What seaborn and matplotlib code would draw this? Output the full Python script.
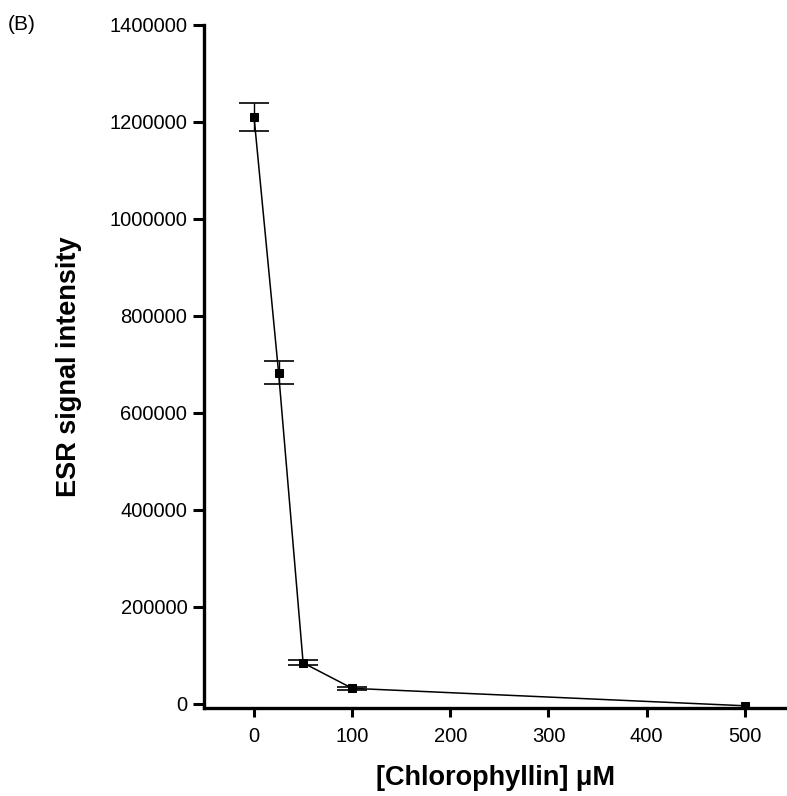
import numpy as np
import pandas as pd
import matplotlib
matplotlib.use('Agg')
import matplotlib.pyplot as plt
import seaborn as sns

# valori
conc = [0, 25, 50, 100, 500]
esr = [1210000, 683000, 84500, 32000, -4000]
err = [29000, 23500, 5000, 3000, 0]
x_ticks = [0, 100, 200, 300, 400, 500]
y_ticks = [0, 200000, 400000, 600000, 800000, 1000000, 1200000, 1400000]

sns.set_theme(style='ticks')
plt.rcParams['font.family'] = ['Liberation Sans', 'DejaVu Sans']
plt.rcParams['text.color'] = 'black'
plt.rcParams['axes.labelcolor'] = 'black'

df = pd.DataFrame({'conc': conc, 'esr': esr, 'err': err})

fig = plt.figure(figsize=(7.87, 7.96), dpi=100)
ax = fig.add_axes([0.2592, 0.1106, 0.7408, 0.858])

# barre di errore (solo dove visibili)
de = df[df['err'] > 0]
ax.errorbar(de['conc'], de['esr'], yerr=de['err'], fmt='none', ecolor='black',
            elinewidth=1.0, capsize=11, capthick=1.2, zorder=2)
sns.lineplot(data=df, x='conc', y='esr', ax=ax, color='black', linewidth=1.1,
             marker='s', markersize=5.5, markeredgecolor='black', zorder=3)

ax.set_xlim(-51, 543)
ax.set_ylim(-8500, 1400000)
ax.set_xticks(x_ticks)
ax.set_yticks(y_ticks)
ax.set_yticklabels([str(v) for v in y_ticks])
ax.tick_params(axis='both', direction='out', width=2.2, labelsize=14.5,
               colors='black')
ax.tick_params(axis='x', length=6.5, pad=7)
ax.tick_params(axis='y', length=8, pad=4)

for s in ['top', 'right']:
    ax.spines[s].set_visible(False)
for s in ['left', 'bottom']:
    ax.spines[s].set_linewidth(2.4)
    ax.spines[s].set_color('black')

ax.set_xlabel('[Chlorophyllin] μM', fontsize=19.5, fontweight='bold', labelpad=14,
              color='black')
ax.set_ylabel('ESR signal intensity', fontsize=19.5, fontweight='bold', labelpad=20,
              color='black')

fig.text(0.01, 0.969, '(B)', fontsize=15, va='center', ha='left', color='black')

fig.savefig('out.png', dpi=100)
